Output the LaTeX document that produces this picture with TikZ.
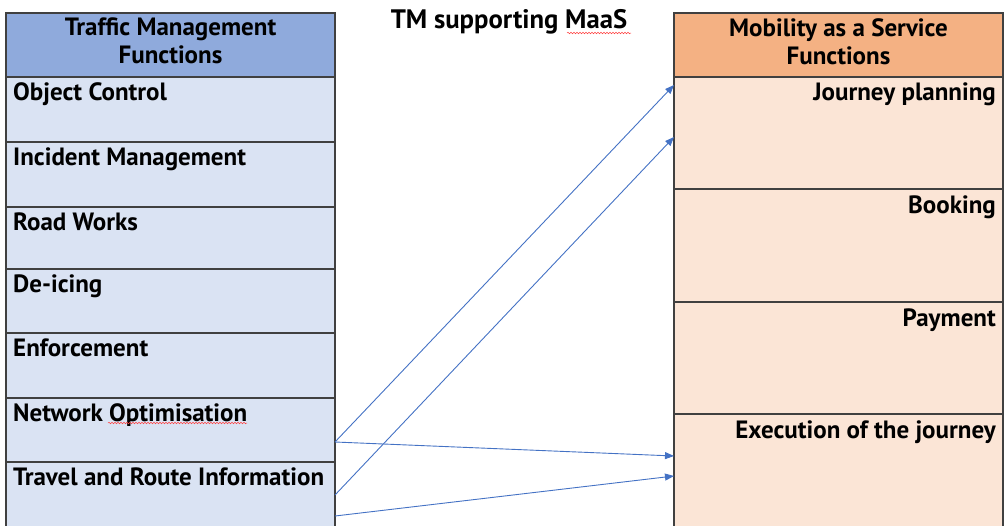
\documentclass[tikz,border=0pt]{standalone}
\usepackage{fontspec}
\setmainfont{PT Sans}
\usetikzlibrary{arrows.meta,decorations.pathmorphing,calc}
\definecolor{tmhead}{HTML}{8FAADC}
\definecolor{tmrow}{HTML}{DAE3F3}
\definecolor{mshead}{HTML}{F4B183}
\definecolor{msrow}{HTML}{FBE5D6}
\definecolor{frame}{HTML}{404040}
\definecolor{link}{HTML}{4472C4}
\begin{document}
\begin{tikzpicture}[x=1pt,y=-1pt,
  box/.style={draw=frame,line width=1.1pt,anchor=north west,inner sep=0pt,outer sep=0pt,minimum width=329pt},
  tmh/.style={box,fill=tmhead},
  tmr/.style={box,fill=tmrow},
  msh/.style={box,fill=mshead},
  msr/.style={box,fill=msrow},
  lbl/.style={inner sep=0pt,font=\fontsize{25}{28}\selectfont\bfseries},
  lbll/.style={lbl,anchor=base west},
  lblr/.style={lbl,anchor=base east},
  hdr/.style={lbl,align=center,anchor=north},
  link/.style={draw=link,line width=0.9pt,-{Triangle[length=9pt,width=7pt]}},
  squig/.style={draw=red!75,line width=0.5pt,decorate,decoration={snake,amplitude=0.8pt,segment length=3pt}}
]
\useasboundingbox (0,0) rectangle (1007,525);
\clip (0,0) rectangle (1007,525);
% left table
\node[tmh,minimum height=64pt] (tmhd) at (6,13) {};
\node[tmr,minimum height=65pt] (oc) at (6,77) {};
\node[tmr,minimum height=65pt] (im) at (6,142) {};
\node[tmr,minimum height=62pt] (rw) at (6,207) {};
\node[tmr,minimum height=64pt] (di) at (6,269) {};
\node[tmr,minimum height=65pt] (en) at (6,333) {};
\node[tmr,minimum height=64pt] (no) at (6,398) {};
\node[tmr,minimum height=66pt] (tr) at (6,462) {};
% right table
\node[msh,minimum height=64pt] (mshd) at (674,13) {};
\node[msr,minimum height=112pt] (jp) at (674,77) {};
\node[msr,minimum height=113pt] (bk) at (674,189) {};
\node[msr,minimum height=112pt] (pm) at (674,302) {};
\node[msr,minimum height=114pt] (ex) at (674,414) {};
% headers
\node[hdr] (tmht) at ($(tmhd.north)+(0,5)$) {Traffic Management\\Functions};
\node[hdr] (msht) at ($(mshd.north)+(0,5)$) {Mobility as a Service\\Functions};
\node[lbl,anchor=base,font=\fontsize{26.7}{28}\selectfont\bfseries] (title) at (509,28) {TM supporting MaaS};
% left labels
\node[lbll] (toc) at ($(oc.north west)+(7,23)$) {Object Control};
\node[lbll] (tim) at ($(im.north west)+(7,23)$) {Incident Management};
\node[lbll] (trw) at ($(rw.north west)+(7,23)$) {Road Works};
\node[lbll] (tdi) at ($(di.north west)+(7,23)$) {De-icing};
\node[lbll] (ten) at ($(en.north west)+(7,23)$) {Enforcement};
\node[lbll] (tno) at ($(no.north west)+(7,23)$) {Network Optimisation};
\node[lbll] (ttr) at ($(tr.north west)+(7,23)$) {Travel and Route Information};
% right labels
\node[lblr] (tjp) at ($(jp.north east)+(-7,23)$) {Journey planning};
\node[lblr] (tbk) at ($(bk.north east)+(-7,24)$) {Booking};
\node[lblr] (tpm) at ($(pm.north east)+(-7,24)$) {Payment};
\node[lblr] (tex) at ($(ex.north east)+(-7,24)$) {Execution of the journey};
% spell-check marks
\draw[squig] (567,33) -- (631,33);
\draw[squig] (108,423) -- (247,423);
% connectors
\draw[link] ($(no.north east)+(0,44)$) -- ($(jp.north west)+(0,8)$);
\draw[link] ($(tr.north east)+(0,33)$) -- ($(jp.north west)+(0,60)$);
\draw[link] ($(no.north east)+(0,44)$) -- ($(ex.north west)+(0,42)$);
\draw[link] ($(tr.north east)+(0,54)$) -- ($(ex.north west)+(0,62)$);
\end{tikzpicture}
\end{document}
